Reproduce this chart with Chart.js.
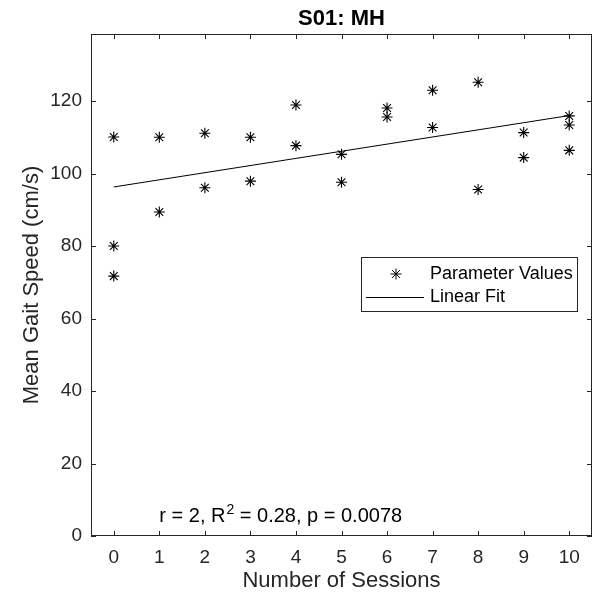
<!DOCTYPE html>
<html>
<head>
<meta charset="utf-8">
<script src="https://cdn.jsdelivr.net/npm/chart.js@4/dist/chart.umd.min.js"></script>
<style>
  html, body { margin: 0; padding: 0; background: #fff; }
  canvas { display: block; }
</style>
</head>
<body>
<canvas id="gait_canvas" width="600" height="594"></canvas>
<script>
// values
const sessions  = [0, 0, 0, 1, 1, 2, 2, 3, 3, 4, 4, 5, 5, 6, 6, 7, 7, 8, 8, 9, 9, 10, 10, 10];
const gaitSpeed = [110.1, 80.0, 71.7, 110.0, 89.4, 111.1, 96.1, 110.0, 97.9, 118.9, 107.7, 105.3, 97.6,
                   118.1, 115.6, 123.0, 112.7, 125.2, 95.6, 111.3, 104.4, 115.9, 113.4, 106.4];
const fitX = [0, 10];
const fitY = [96.3, 116.0];
const xTicks = [0, 1, 2, 3, 4, 5, 6, 7, 8, 9, 10];
const yTicks = [0, 20, 40, 60, 80, 100, 120];
const titleText = 'S01: MH';
const statsText = ['r = 2, R', '2', ' = 0.28, p = 0.0078'];

const axisColor = '#262626';
const fontFam = '"Liberation Sans", Arial, Helvetica, sans-serif';

const scatterData = sessions.map((s, i) => ({x: s, y: gaitSpeed[i]}));
const fitData = fitX.map((x, i) => ({x: x, y: fitY[i]}));

// box + inward ticks on all four sides, title, legend and stats text (matlab look)
const matlabAxes = {
  id: 'matlabAxes',
  afterDraw(chart) {
    const c = chart.ctx;
    const a = chart.chartArea;
    const xs = chart.scales.x, ys = chart.scales.y;
    c.save();
    c.strokeStyle = axisColor;
    c.lineWidth = 1;
    c.strokeRect(a.left + 0.5, a.top + 0.5, a.right - a.left - 1, a.bottom - a.top - 1);
    c.beginPath();
    xs.ticks.forEach(t => {
      const px = Math.round(xs.getPixelForValue(t.value)) + 0.5;
      c.moveTo(px, a.bottom); c.lineTo(px, a.bottom - 5);
      c.moveTo(px, a.top); c.lineTo(px, a.top + 5);
    });
    ys.ticks.forEach(t => {
      const py = Math.round(ys.getPixelForValue(t.value)) + 0.5;
      c.moveTo(a.left, py); c.lineTo(a.left + 5, py);
      c.moveTo(a.right, py); c.lineTo(a.right - 5, py);
    });
    c.stroke();

    // title centred over the axes
    c.fillStyle = '#000';
    c.textAlign = 'center';
    c.textBaseline = 'middle';
    c.font = 'bold 22px ' + fontFam;
    c.fillText(titleText, (a.left + a.right) / 2, 19);

    // stats annotation, anchored at session 1
    let tx = xs.getPixelForValue(1);
    const ty = ys.getPixelForValue(5.5);
    c.textAlign = 'left';
    c.font = '20px ' + fontFam;
    c.fillText(statsText[0], tx, ty);
    tx += c.measureText(statsText[0]).width;
    c.font = '14px ' + fontFam;
    c.fillText(statsText[1], tx + 1, ty - 6);
    tx += c.measureText(statsText[1]).width + 1;
    c.font = '20px ' + fontFam;
    c.fillText(statsText[2], tx, ty);

    // legend box
    const lx = a.right - 231, ly = a.top + 223, lw = 216, lh = 54;
    c.fillStyle = '#fff';
    c.fillRect(lx, ly, lw, lh);
    c.strokeStyle = axisColor;
    c.strokeRect(lx + 0.5, ly + 0.5, lw, lh);
    const ds = chart.data.datasets;
    c.strokeStyle = '#000';
    Chart.helpers.drawPoint(c, {pointStyle: 'star', radius: 5.5, borderWidth: 1}, lx + 35, ly + 17);
    c.beginPath();
    c.moveTo(lx + 5, ly + 40.5); c.lineTo(lx + 63, ly + 40.5);
    c.stroke();
    c.fillStyle = '#000';
    c.font = '18px ' + fontFam;
    c.fillText(ds[0].label, lx + 69, ly + 17);
    c.fillText(ds[1].label, lx + 69, ly + 40);
    c.restore();
  }
};

const config = {
  type: 'scatter',
  data: {
    datasets: [{
      label: 'Parameter Values',
      data: scatterData,
      pointStyle: 'star',
      pointRadius: 5.5,
      pointBorderWidth: 1.1,
      borderColor: '#000',
      backgroundColor: '#000',
      showLine: false
    },
    {
      label: 'Linear Fit',
      data: fitData,
      showLine: true,
      borderColor: '#000',
      borderWidth: 1,
      pointRadius: 0,
      fill: false
    }]
  },
  options: {
    responsive: false,
    animation: false,
    layout: { padding: { left: 0, right: 8, top: 34, bottom: 0 } },
    plugins: {
      legend: { display: false },
      tooltip: { enabled: false },
      title: { display: false }
    },
    scales: {
      x: {
        type: 'linear',
        min: -0.5,
        max: 10.5,
        grid: { display: false, drawTicks: false },
        border: { display: false },
        afterBuildTicks: s => { s.ticks = xTicks.map(v => ({value: v})); },
        afterFit: s => { s.height = 58; },
        ticks: {
          color: axisColor,
          padding: 10,
          maxRotation: 0,
          autoSkip: false,
          font: { family: fontFam, size: 19 }
        },
        title: {
          display: true,
          text: 'Number of Sessions',
          color: axisColor,
          font: { family: fontFam, size: 22 },
          padding: { top: 0, bottom: 0 }
        }
      },
      y: {
        min: 0,
        max: 138.5,
        grid: { display: false, drawTicks: false },
        border: { display: false },
        afterBuildTicks: s => { s.ticks = yTicks.map(v => ({value: v})); },
        afterFit: s => { s.width = 91; },
        ticks: {
          color: axisColor,
          padding: 9,
          autoSkip: false,
          font: { family: fontFam, size: 19 }
        },
        title: {
          display: true,
          text: 'Mean Gait Speed (cm/s)',
          color: axisColor,
          font: { family: fontFam, size: 22 },
          padding: { top: 19, bottom: 0 }
        }
      }
    }
  },
  plugins: [matlabAxes]
};

const gaitChart = new Chart(document.getElementById('gait_canvas'), config);
</script>
</body>
</html>
